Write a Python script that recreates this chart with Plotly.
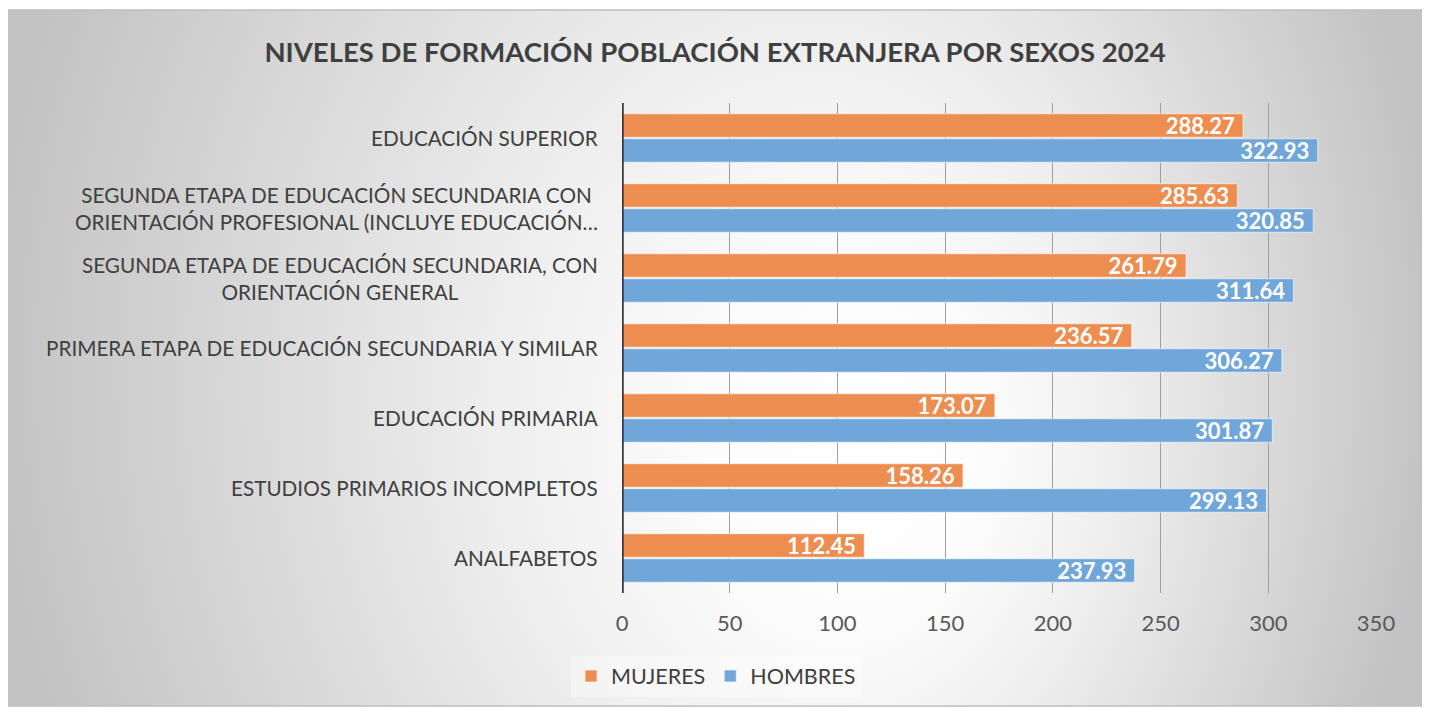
import base64
import plotly.graph_objects as go

# ---- data (top to bottom as displayed) ----
categories = [
    "EDUCACIÓN SUPERIOR",
    "SEGUNDA ETAPA DE EDUCACIÓN SECUNDARIA CON<br>ORIENTACIÓN PROFESIONAL (INCLUYE EDUCACIÓN…",
    "SEGUNDA ETAPA DE EDUCACIÓN SECUNDARIA, CON<br>ORIENTACIÓN GENERAL",
    "PRIMERA ETAPA DE EDUCACIÓN SECUNDARIA Y SIMILAR",
    "EDUCACIÓN PRIMARIA",
    "ESTUDIOS PRIMARIOS INCOMPLETOS",
    "ANALFABETOS",
]
mujeres = [288.27, 285.63, 261.79, 236.57, 173.07, 158.26, 112.45]
hombres = [322.93, 320.85, 311.64, 306.27, 301.87, 299.13, 237.93]
x_ticks = [0, 50, 100, 150, 200, 250, 300, 350]
title_text = "NIVELES DE FORMACIÓN POBLACIÓN EXTRANJERA POR SEXOS 2024"

FONT = "Lato"
OFF = 8  # page body margin
W, H = 1422, 700
ML, MR, MT, MB = 614, 54, 95, 115
PW, PH = W - ML - MR, H - MT - MB

def px_to_paper_x(page_px):
    return (page_px - OFF - ML) / PW

def py_to_paper_y(page_py):
    return (H - MB - (page_py - OFF)) / PH

# frame in page pixels
FX0, FY0, FX1, FY1 = 7, 10, 1422, 706
fw, fh = FX1 - FX0, FY1 - FY0

svg = f'''<svg xmlns="http://www.w3.org/2000/svg" width="{fw}" height="{fh}" viewBox="0 0 {fw} {fh}">
<defs><radialGradient id="g" gradientUnits="userSpaceOnUse" cx="707" cy="348" r="720" fx="873" fy="437"
 gradientTransform="translate(0 348) scale(1 1.25) translate(0 -348)">
<stop offset="0" stop-color="#ffffff"/>
<stop offset="0.2" stop-color="#fcfcfc"/>
<stop offset="0.45" stop-color="#ededed"/>
<stop offset="1" stop-color="#c3c3c3"/>
</radialGradient></defs>
<rect x="0" y="0" width="{fw}" height="{fh}" fill="url(#g)"/>
</svg>'''
svg_uri = "data:image/svg+xml;base64," + base64.b64encode(svg.encode()).decode()

fig = go.Figure()
fig.add_trace(go.Bar(
    y=categories, x=mujeres, name="MUJERES", orientation="h",
    marker=dict(color="#EE8D50", line=dict(color="rgba(255,255,255,0.6)", width=1)),
    texttemplate="%{x:.2f}\u00a0", textposition="inside", insidetextanchor="end",
    constraintext="none",
    textfont=dict(family=FONT, size=22, color="white", weight="bold"),
))
fig.add_trace(go.Bar(
    y=categories, x=hombres, name="HOMBRES", orientation="h",
    marker=dict(color="#70A6DA", line=dict(color="rgba(255,255,255,0.6)", width=1)),
    texttemplate="%{x:.2f}\u00a0", textposition="inside", insidetextanchor="end",
    constraintext="none",
    textfont=dict(family=FONT, size=22, color="white", weight="bold"),
))

annotations = []
for c in categories:
    annotations.append(dict(
        x=px_to_paper_x(600), xref="paper", y=c, yref="y",
        text=c, showarrow=False, xanchor="right", yanchor="middle", align="center",
        font=dict(family=FONT, size=20.7, color="#404040"),
    ))

fig.update_layout(
    width=W, height=H,
    margin=dict(l=ML, r=MR, t=MT, b=MB, pad=0),
    paper_bgcolor="white",
    plot_bgcolor="rgba(0,0,0,0)",
    barmode="group", bargap=0.286, bargroupgap=0.06,
    uniformtext=dict(minsize=22, mode="show"),
    title=dict(text=f"<b>{title_text}</b>", x=(715 - OFF) / W, xref="container", xanchor="center",
               y=1 - (52 - OFF) / H, yref="container", yanchor="middle",
               font=dict(family=FONT, size=27.5, color="#404040")),
    xaxis=dict(range=[0, 350], tickvals=x_ticks, showgrid=True, gridcolor="#9f9f9f", gridwidth=1,
               zeroline=False, showline=False, ticks="outside", ticklen=11, tickcolor="rgba(0,0,0,0)",
               tickfont=dict(family=FONT, size=22, color="#595959")),
    yaxis=dict(autorange="reversed", showticklabels=False, showgrid=False, zeroline=False,
               showline=False),
    legend=dict(orientation="h", x=px_to_paper_x(716), xref="paper", xanchor="center",
                y=py_to_paper_y(676), yanchor="middle", bgcolor="rgba(255,255,255,0.35)",
                font=dict(family=FONT, size=21.5, color="#404040"), itemwidth=30),
    annotations=annotations,
    images=[dict(source=svg_uri, xref="paper", yref="paper",
                 x=px_to_paper_x(FX0), y=py_to_paper_y(FY0),
                 sizex=fw / PW, sizey=fh / PH, sizing="stretch",
                 xanchor="left", yanchor="top", layer="below")],
    shapes=[
        dict(type="rect", xref="paper", yref="paper",
             x0=px_to_paper_x(FX0), x1=px_to_paper_x(FX1),
             y0=py_to_paper_y(FY1), y1=py_to_paper_y(FY0),
             line=dict(color="#bfbfbf", width=1.5), fillcolor="rgba(0,0,0,0)", layer="below"),
        dict(type="line", xref="x", yref="paper", x0=0, x1=0, y0=0, y1=1,
             line=dict(color="#3a3a3a", width=3.5), layer="above"),
    ],
)

fig.write_html("out.html")
